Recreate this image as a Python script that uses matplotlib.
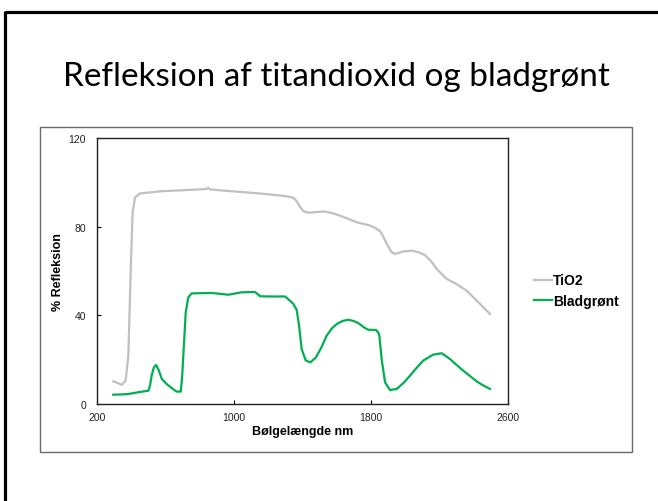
import matplotlib
matplotlib.use("Agg")
import matplotlib.pyplot as plt
from matplotlib.lines import Line2D
from matplotlib.patches import Rectangle

# ---- data ----
tio2_wl = [295, 320, 344, 367, 383, 397, 408, 422, 451, 578, 772, 840, 850, 860,
           967, 1162, 1300, 1347, 1366, 1385, 1405, 1434, 1473, 1521, 1570, 1619,
           1716, 1794, 1830, 1853, 1872, 1892, 1921, 1940, 1990, 2038, 2080, 2115,
           2150, 2184, 2242, 2300, 2359, 2427, 2495]
tio2_val = [10.2, 9.5, 8.6, 10.5, 21.8, 60.9, 86.5, 93.2, 95.0, 96.0, 96.7, 97.0, 97.6, 96.8,
            96.1, 94.9, 93.8, 93.0, 91.5, 89.0, 87.0, 86.3, 86.5, 86.9, 86.2, 85.0,
            82.0, 80.5, 79.2, 78.0, 75.5, 72.2, 68.4, 67.7, 68.8, 69.2, 68.4, 67.2,
            64.5, 60.9, 56.4, 54.1, 51.1, 45.9, 40.6]

leaf_wl = [295, 340, 383, 441, 500, 510, 519, 532, 545, 562, 578, 607, 636, 665, 689,
           697, 704, 718, 733, 753, 870, 967, 1045, 1123, 1140, 1152, 1220, 1298,
           1327, 1345, 1366, 1380, 1395, 1419, 1446, 1478, 1510, 1541, 1570, 1600,
           1635, 1668, 1700, 1726, 1760, 1784, 1829, 1842, 1849, 1862, 1882, 1911,
           1950, 1990, 2028, 2065, 2105, 2164, 2213, 2261, 2300, 2339, 2380, 2417,
           2455, 2495]
leaf_val = [4.2, 4.3, 4.5, 5.3, 6.0, 8.5, 12.8, 16.5, 17.6, 15.0, 11.3, 9.0, 7.2, 5.6, 5.6,
            12.0, 21.8, 41.3, 48.1, 49.9, 50.1, 49.3, 50.4, 50.5, 49.5, 48.6, 48.5, 48.5,
            46.6, 45.3, 42.5, 35.3, 24.8, 19.6, 18.8, 21.0, 25.5, 30.8, 34.0, 36.1,
            37.5, 38.0, 37.4, 36.5, 34.5, 33.5, 33.4, 32.3, 30.8, 20.3, 9.8, 6.3,
            6.8, 9.5, 12.8, 16.2, 19.6, 22.3, 22.9, 20.3, 17.6, 15.0, 12.5, 10.2,
            8.4, 6.8]

x_ticks = [200, 1000, 1800, 2600]
y_ticks = [0, 40, 80, 120]
series_names = ["TiO2", "Bladgrønt"]
title_text = "Refleksion af titandioxid og bladgrønt"
xlabel_text = "Bølgelængde nm"
ylabel_text = "% Refleksion"

W, H = 658, 502
fig = plt.figure(figsize=(W / 100, H / 100), dpi=100)
fig.patch.set_facecolor("white")

def fx(px):
    return px / W

def fy(py):
    return 1 - py / H

# slide border (top & left)
fig.add_artist(Line2D([fx(5), 1.0], [fy(12.7), fy(12.7)], color="black", lw=2.3,
                      solid_capstyle="butt"))
fig.add_artist(Line2D([fx(5), fx(5)], [fy(11.6), 0], color="black", lw=2.3,
                      solid_capstyle="butt"))

# chart frame
fig.add_artist(Rectangle((fx(39.5), fy(453)), fx(632) - fx(39.5), fy(127.5) - fy(453),
                         fill=False, edgecolor="#6a6a6a", lw=1.0))

# title
t = fig.text(fx(336), fy(86), title_text, ha="center", va="baseline",
             family="Lato", fontsize=20, color="black")
fig.canvas.draw()
bb = t.get_window_extent()
t.set_fontsize(20 * 548 / bb.width)

ax = fig.add_axes([fx(97), fy(405), fx(508) - fx(97), fy(139) - fy(405)])
ax.plot(tio2_wl, tio2_val, color="#C0C0C0", lw=1.6, label=series_names[0],
        solid_joinstyle="round")
ax.plot(leaf_wl, leaf_val, color="#00B050", lw=1.6, label=series_names[1],
        solid_joinstyle="round")
ax.set_xlim(x_ticks[0], x_ticks[-1])
ax.set_ylim(y_ticks[0], y_ticks[-1])
ax.set_xticks(x_ticks)
ax.set_yticks(y_ticks)
ax.tick_params(axis="both", direction="in", length=3, width=0.8, labelsize=7.5,
               colors="black", labelcolor="#222222")
ax.tick_params(axis="x", pad=6)
ax.tick_params(axis="y", pad=8)
for lab in ax.get_xticklabels() + ax.get_yticklabels():
    lab.set_family("Liberation Sans")
for s in ax.spines.values():
    s.set_color("#222222")
    s.set_linewidth(1.0)
ax.set_xlabel(xlabel_text, family="Liberation Sans", fontweight="bold", fontsize=9,
              labelpad=2)
ax.set_ylabel(ylabel_text, family="Liberation Sans", fontweight="bold", fontsize=9,
              labelpad=3)

leg = fig.legend(loc="center left", bbox_to_anchor=(fx(534), fy(291.5)),
                 frameon=False, handlelength=1.3, handletextpad=0.05,
                 labelspacing=0.45, borderpad=0, borderaxespad=0,
                 prop={"family": "Liberation Sans", "weight": "bold", "size": 10})

fig.savefig("out.png", dpi=100, facecolor="white")
